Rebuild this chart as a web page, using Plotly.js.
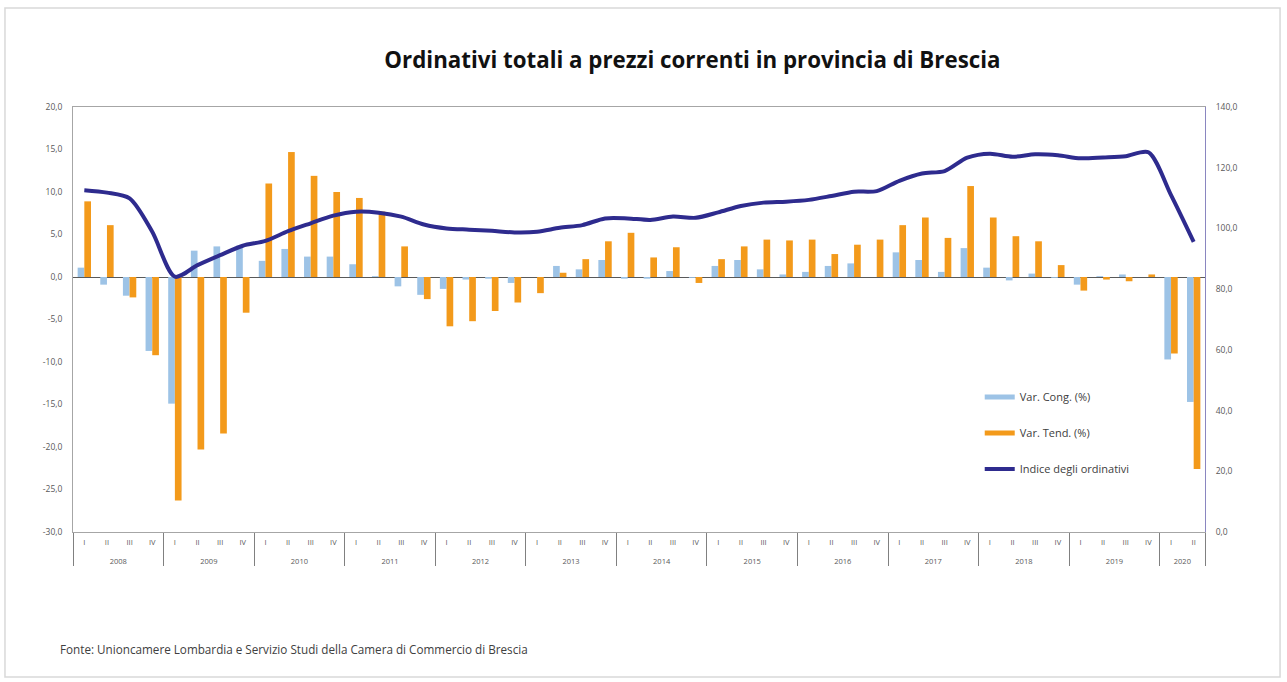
<!DOCTYPE html>
<html>
<head>
<meta charset="utf-8">
<script src="https://cdn.plot.ly/plotly-3.0.1.min.js"></script>
<style>html,body{margin:0;padding:0;background:#fff;}#chart{width:1287px;height:682px;}</style>
</head>
<body>
<div id="chart"></div>
<script>
var years = ['2008','2009','2010','2011','2012','2013','2014','2015','2016','2017','2018','2019','2020'];
var quarters = ['I','II','III','IV'];
var quartersPerYear = [4,4,4,4,4,4,4,4,4,4,4,4,2];

var varCong = [1.1,-0.9,-2.2,-8.7, -14.9,3.1,3.6,3.7, 1.9,3.3,2.4,2.4, 1.5,0.1,-1.1,-2.1,
  -1.4,-0.3,-0.2,-0.7, 0.0,1.3,0.9,2.0, -0.2,-0.2,0.7,-0.1, 1.3,2.0,0.9,0.3,
  0.6,1.3,1.6,0.0, 2.9,2.0,0.6,3.4, 1.1,-0.4,0.4,-0.1, -0.9,0.1,0.3,0.0, -9.7,-14.7];
var varTend = [8.9,6.1,-2.4,-9.2, -26.3,-20.3,-18.4,-4.2, 11.0,14.7,11.9,10.0, 9.3,7.7,3.6,-2.6,
  -5.8,-5.2,-4.0,-3.0, -1.9,0.5,2.1,4.2, 5.2,2.3,3.5,-0.7, 2.1,3.6,4.4,4.3,
  4.4,2.7,3.8,4.4, 6.1,7.0,4.6,10.7, 7.0,4.8,4.2,1.4, -1.6,-0.3,-0.5,0.3, -9.0,-22.6];
var indice = [112.6,111.8,109.9,98.9, 84.1,87.9,91.2,94.3, 95.9,99.1,101.7,104.2, 105.5,105.2,103.9,101.3,
  100.0,99.6,99.2,98.7, 98.9,100.2,101.1,103.3, 103.3,102.8,103.9,103.5, 105.3,107.4,108.5,108.8,
  109.4,110.7,112.1,112.3, 115.7,118.1,118.9,123.3, 124.6,123.6,124.4,124.1, 123.1,123.4,123.8,125.1, 111.0,95.6];

var leftTickVals = [20,15,10,5,0,-5,-10,-15,-20,-25,-30];
var leftTickText = ['20,0','15,0','10,0','5,0','0,0','-5,0','-10,0','-15,0','-20,0','-25,0','-30,0'];
var rightTickVals = [140,120,100,80,60,40,20,0];
var rightTickText = ['140,0','120,0','100,0','80,0','60,0','40,0','20,0','0,0'];

var names = ['Var. Cong. (%)','Var. Tend. (%)','Indice degli ordinativi'];
var colors = ['#9DC3E6','#F39A1B','#2E2B8E'];

var xYear = [], xQuarter = [];
years.forEach(function(y,i){
  for (var q=0;q<quartersPerYear[i];q++){ xYear.push('<br>'+y); xQuarter.push(quarters[q]); }
});
var X = [xYear, xQuarter];

var traces = [
  {type:'bar', x:X, y:varCong, name:names[0], marker:{color:colors[0]}, showlegend:false, hoverinfo:'y'},
  {type:'bar', x:X, y:varTend, name:names[1], marker:{color:colors[1]}, showlegend:false, hoverinfo:'y'},
  {type:'scatter', mode:'lines', x:[null], y:[null], name:names[0], line:{color:colors[0], width:5}, legendgroup:'a'},
  {type:'scatter', mode:'lines', x:[null], y:[null], name:names[1], line:{color:colors[1], width:5}, legendgroup:'b'},
  {type:'scatter', mode:'lines', x:X, y:indice, name:names[2], yaxis:'y2', line:{color:colors[2], width:4, shape:'spline', smoothing:0.8}, legendgroup:'c'}
];

var layout = {
  width:1287, height:682,
  margin:{l:73, r:82, t:107, b:150},
  paper_bgcolor:'#fff', plot_bgcolor:'#fff',
  font:{family:'"Open Sans", Lato, sans-serif', color:'#404040', size:9},
  title:{text:'<b>Ordinativi totali a prezzi correnti in provincia di Brescia</b>', x:0.538, xanchor:'center', y:0.912, yanchor:'middle', font:{family:'"Open Sans", Lato, sans-serif', size:22.3, color:'#111'}},
  barmode:'group', bargap:0.41, bargroupgap:0,
  showlegend:true,
  legend:{x:0.801, y:0.352, xanchor:'left', yanchor:'top', bgcolor:'rgba(0,0,0,0)', tracegroupgap:17, font:{size:11, color:'#404040'}, itemwidth:30},
  xaxis:{type:'multicategory', showline:true, linecolor:'#a6a6a6', linewidth:1, mirror:true, showgrid:false, ticks:'', tickfont:{size:7.5, color:'#595959'}, showdividers:true, dividercolor:'#808080', dividerwidth:1, zeroline:false, ticklabelstandoff:3},
  yaxis:{range:[-30,20], tickvals:leftTickVals, ticktext:leftTickText, showgrid:false, zeroline:true, zerolinecolor:'#595959', zerolinewidth:1, showline:true, linecolor:'#a6a6a6', ticks:'', tickfont:{size:8.5, color:'#595959'}, ticklabelstandoff:8},
  yaxis2:{range:[0,140], overlaying:'y', side:'right', tickvals:rightTickVals, ticktext:rightTickText, showgrid:false, zeroline:false, showline:true, linecolor:'#8a86c0', ticks:'', tickfont:{size:8.5, color:'#595959'}, ticklabelstandoff:8},
  shapes:[
    {type:'rect', xref:'paper', yref:'paper', x0:-0.0601, x1:1.0663, y0:-0.3412, y1:1.2329, line:{color:'#d9d9d9', width:1.5}, fillcolor:'rgba(0,0,0,0)', layer:'below'}
  ],
  annotations:[
    {text:'Fonte: Unioncamere Lombardia e Servizio Studi della Camera di Commercio di Brescia', xref:'paper', yref:'paper', x:-0.0133, y:-0.2748, xanchor:'left', yanchor:'middle', showarrow:false, font:{size:11.7, color:'#404040'}}
  ]
};

Plotly.newPlot('chart', traces, layout, {displayModeBar:false, staticPlot:true});
</script>
</body>
</html>
